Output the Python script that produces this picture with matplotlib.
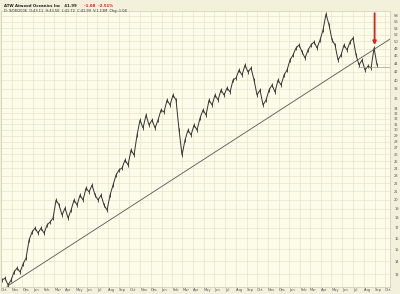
#!/usr/bin/env python3
# -*- coding: utf-8 -*-

import pandas as pd
from matplotlib import pyplot as plt
from matplotlib.ticker import FixedLocator, NullLocator

# weekly-ish closes (Oct 2003 - Sep 2006)
closes = [
    12.55, 12.70, 12.20, 12.55, 13.15, 13.46, 13.15, 13.78, 14.26, 15.83,
    16.58, 16.97, 16.48, 16.97, 16.48, 17.27, 17.57, 17.98, 19.96, 19.39,
    18.30, 19.05, 17.98, 18.83, 19.96, 19.39, 20.54, 19.96, 21.40, 20.91,
    21.77, 20.54, 19.96, 20.54, 19.39, 18.83, 20.54, 21.77, 23.07, 23.75,
    24.03, 25.17, 24.45, 26.66, 25.90, 29.09, 31.73, 30.29, 32.66, 30.82,
    31.73, 30.29, 31.73, 33.62, 33.23, 35.62, 34.61, 36.67, 35.62, 29.94,
    25.90, 28.26, 29.94, 29.09, 30.82, 29.94, 32.10, 33.62, 32.66, 35.62,
    34.61, 36.67, 35.62, 37.76, 36.67, 38.20, 37.32, 40.00, 40.47, 42.38,
    41.17, 43.63, 41.89, 42.87, 40.00, 36.67, 37.76, 34.61, 35.62, 37.76,
    38.87, 37.32, 40.00, 38.87, 41.17, 42.38, 44.92, 46.24, 48.15, 49.00,
    47.05, 45.44, 47.60, 49.00, 49.86, 48.15, 50.44, 53.45, 58.64, 55.02,
    50.44, 49.00, 44.92, 46.24, 49.00, 47.60, 49.86, 51.03, 46.24, 43.63,
    44.92, 42.38, 43.38, 42.87, 48.15, 43.63,
]
first_day = "2003-10-04"
last_day = "2006-09-08"

trend_dates = ["2003-10-18", "2006-10-15"]
trend_prices = [12.1, 50.7]

support_dates = ["2006-07-15", "2006-10-15"]
support_price = 43.1

arrow_date = "2006-09-01"
arrow_top, arrow_tip = 58.9, 49.0

y_ticks = list(range(12, 35)) + list(range(36, 60, 2))
month_starts = pd.date_range("2003-10-01", "2006-10-01", freq="MS")

title = "ATW Atwood Oceanics Inc"
last_price = "41.99"
change = "-1.08  -2.51%"
subtitle = "D: 9/08/2006  O:43.11  H:43.50  L:41.72  C:41.99  V:1.13M  Chg:-1.08"

dates = pd.date_range(first_day, last_day, periods=len(closes))

fig = plt.figure(figsize=(4.0, 2.94), dpi=100, facecolor="#F3F0DC")
ax = fig.add_axes([0.0025, 0.0238, 0.9725, 0.9388], facecolor="#FDFBE9")

ax.set_yscale("log")
ax.set_xlim(pd.Timestamp("2003-10-01"), pd.Timestamp("2006-10-15"))
ax.set_ylim(12.06, 59.66)

ax.yaxis.set_major_locator(FixedLocator(y_ticks))
ax.yaxis.set_minor_locator(NullLocator())
ax.set_yticklabels([str(v) for v in y_ticks])
ax.yaxis.tick_right()
ax.tick_params(axis="y", length=0, pad=3, labelsize=2.6, labelcolor="#555555")

ax.set_xticks(month_starts)
ax.set_xticklabels([d.strftime("%b") for d in month_starts], ha="left")
ax.tick_params(axis="x", length=0, pad=0.5, labelsize=2.6, labelcolor="#555555")

ax.grid(True, which="major", color="#E9E5C8", linewidth=0.5)
ax.set_axisbelow(True)
for s in ax.spines.values():
    s.set_color("#CFCBB0")
    s.set_linewidth(0.5)

# price line with small bar-like ticks to imitate the OHLC texture
ax.plot(dates, closes, color="#333333", linewidth=0.7,
        marker="|", markersize=3.5, markeredgewidth=0.6)
ax.plot(pd.to_datetime(trend_dates), trend_prices, color="#555555", linewidth=0.6)
ax.plot(pd.to_datetime(support_dates), [support_price] * 2, color="#9A9A9A", linewidth=0.5)

ax.annotate("", xy=(pd.Timestamp(arrow_date), arrow_tip),
            xytext=(pd.Timestamp(arrow_date), arrow_top),
            arrowprops=dict(arrowstyle="-|>", color="#E0201B", lw=1.3,
                            mutation_scale=5, shrinkA=0, shrinkB=0))

fig.text(0.01, 0.988, title + "   " + last_price, fontsize=2.8, fontweight="bold",
         va="top", color="#222222")
fig.text(0.21, 0.988, change, fontsize=2.8, fontweight="bold", va="top", color="#D42020")
fig.text(0.01, 0.968, subtitle, fontsize=2.5, va="top", color="#333333")

fig.savefig("out.png", dpi=100, facecolor=fig.get_facecolor())
